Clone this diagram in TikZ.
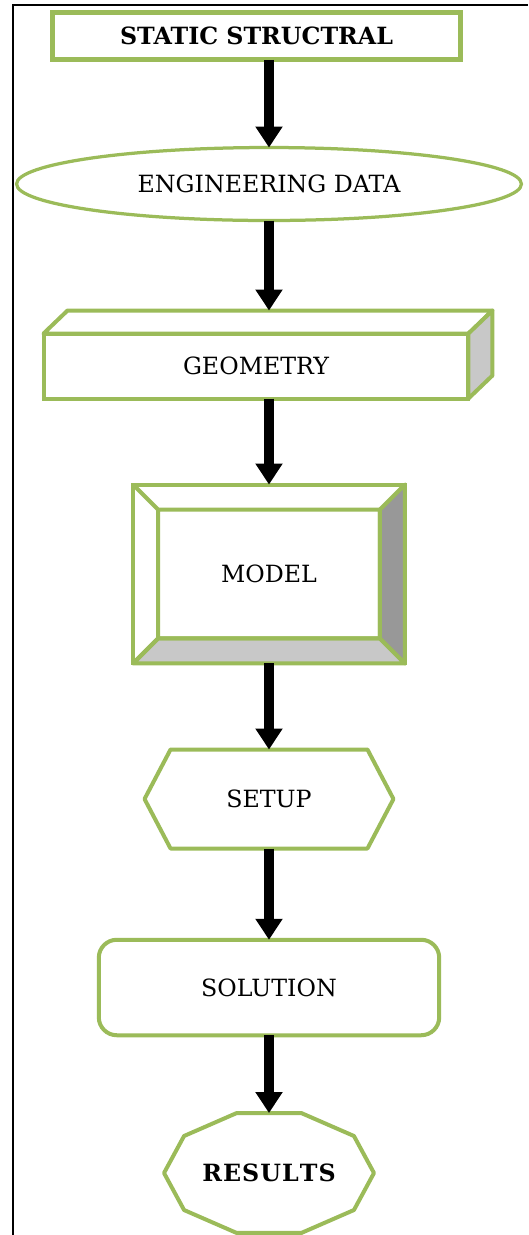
\documentclass[tikz,border=0pt]{standalone}
\usepackage{fontspec}
\setmainfont{DejaVu Serif}
\usepackage{tikz}
\usetikzlibrary{arrows.meta,positioning,shapes.geometric,calc}
\usepackage{xcolor}
\definecolor{leafgreen}{RGB}{155,187,89}
\definecolor{facegray}{RGB}{200,200,200}
\definecolor{shadegray}{RGB}{152,152,152}
\tikzset{
  block/.style={draw=leafgreen, line width=0.08cm, fill=white, outer sep=0pt,
                align=center, font=\fontsize{13.5}{15}\selectfont},
  blockbold/.style={block, line width=0.095cm, font=\fontsize{13.5}{15}\selectfont\bfseries},
  blockoval/.style={block, ellipse, line width=0.065cm},
  blockround/.style={block, rounded corners=0.36cm},
  ghost/.style={block, draw=none, fill=none},
  edge/.style={draw=leafgreen, line width=0.08cm, line join=round},
  arrow/.style={-{Triangle[width=0.52cm,length=0.42cm]}, line width=0.2cm, black},
}

\begin{document}
\begin{tikzpicture}[x=0.02cm, y=-0.02cm]
\useasboundingbox (0,0) rectangle (528,1235);

% ---- frame ----
\draw[line width=0.03cm] (13,1235) -- (13,5) -- (528,5);

% ---- nodes, top to bottom ----
\node[blockbold, minimum width=8.17cm, minimum height=0.95cm] (static) at (256.5,36) {STATIC STRUCTRAL};
\node[blockoval, minimum width=10.1cm, minimum height=1.46cm] (data) at (269,184) {ENGINEERING DATA};
\node[block, minimum width=8.5cm, minimum height=1.3cm] (geo) at (256,366) {GEOMETRY};
\node[block, minimum width=5.44cm, minimum height=3.58cm] (model) at (269,574) {MODEL};
\node[ghost, minimum width=4.98cm, minimum height=1.98cm] (setup) at (269,799) {SETUP};
\node[blockround, minimum width=6.81cm, minimum height=1.91cm] (solution) at (269,987.5) {SOLUTION};
\node[ghost, minimum width=4.2cm, minimum height=2.4cm, font=\fontsize{13.5}{15}\selectfont\bfseries] (results) at (269,1173) {R\kern0.6pt E\kern0.6pt S\kern0.6pt U\kern0.6pt L\kern0.6pt T\kern0.6pt S};

% ---- geometry: top and side faces ----
\draw[edge, fill=white] (geo.north west) -- ++(24,-23) -- ($(geo.north east)+(24,-23)$) -- (geo.north east) -- cycle;
\draw[edge, fill=facegray] (geo.north east) -- ++(24,-23) -- ($(geo.south east)+(24,-23)$) -- (geo.south east) -- cycle;
\coordinate (geotop) at ($(geo.north)+(0,-23)$);

% ---- model: bevel ----
\coordinate (mnw) at ($(model.north west)+(25,25)$);
\coordinate (mne) at ($(model.north east)+(-25,25)$);
\coordinate (msw) at ($(model.south west)+(25,-25)$);
\coordinate (mse) at ($(model.south east)+(-25,-25)$);
\draw[edge, fill=facegray] (model.south west) -- (model.south east) -- (mse) -- (msw) -- cycle;
\draw[edge, fill=shadegray] (model.north east) -- (model.south east) -- (mse) -- (mne) -- cycle;
\draw[edge] (model.north west) -- (mnw) (mnw) -- (mne) -- (mse) -- (msw) -- cycle (msw) -- (model.south west);

% ---- setup: hexagon ----
\draw[edge] (setup.west) -- ($(setup.north west)+(26,0)$) -- ($(setup.north east)+(-26,0)$) -- (setup.east)
  -- ($(setup.south east)+(-26,0)$) -- ($(setup.south west)+(26,0)$) -- cycle;

% ---- results: decagon ----
\draw[edge] ($(results.center)+(0:2.1cm and 1.26cm)$)
  \foreach \a in {36,72,...,324} { -- ($(results.center)+(\a:2.1cm and 1.26cm)$) } -- cycle;

% ---- arrows ----
\draw[arrow] (static.south -| data.north) -- (data.north);
\draw[arrow] (data.south) -- (data.south |- geotop);
\draw[arrow] (geo.south -| model.north) -- (model.north);
\foreach \a/\b in {model/setup, setup/solution, solution/results}
  \draw[arrow] (\a.south) -- (\b.north);
\end{tikzpicture}
\end{document}
